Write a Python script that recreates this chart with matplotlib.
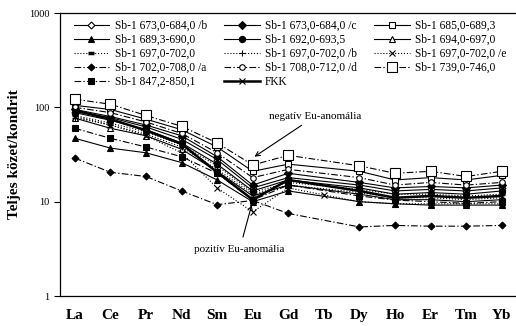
import numpy as np
import matplotlib
matplotlib.use("Agg")
import matplotlib.pyplot as plt

# =========================
# DATA (chondrite-normalized REE)
# =========================
elements = ["La", "Ce", "Pr", "Nd", "Sm", "Eu", "Gd", "Tb", "Dy", "Ho", "Er", "Tm", "Yb"]
nan = np.nan

labels = [
    "Sb-1 673,0-684,0 /b", "Sb-1 673,0-684,0 /c", "Sb-1 685,0-689,3",
    "Sb-1 689,3-690,0", "Sb-1 692,0-693,5", "Sb-1 694,0-697,0",
    "Sb-1 697,0-702,0", "Sb-1 697,0-702,0 /b", "Sb-1 697,0-702,0 /e",
    "Sb-1 702,0-708,0 /a", "Sb-1 708,0-712,0 /d", "Sb-1 739,0-746,0",
    "Sb-1 847,2-850,1", "FKK",
]

sb_673_b = [90, 78, 62, 46, 28, 14, 18, nan, 15, 13, 13.5, 13, 14]
sb_673_c = [95, 80, 65, 50, 30, 15, 20, nan, 16, 14, 14.5, 14, 15]
sb_685 = [105, 95, 75, 58, 38, 21, 25, nan, 21, 17, 18, 17, 19]
sb_689 = [47, 37, 33, 26, 17, 10, 13, nan, 10, 9.5, 9.2, 9.2, 9.2]
sb_692 = [88, 73, 58, 42, 25, 13, 17, nan, 14, 12, 12.5, 12, 13]
sb_694 = [77, 60, 50, 36, 21, 11.5, 15, nan, 12, 10.5, 10.5, 10, 10.5]
sb_697 = [82, 68, 55, 40, 24, 12.5, 16, nan, 13.5, 12, 12, 11.5, 12]
sb_697_b = [78, 65, 52, 38, 22, 12, 15, nan, 12.5, 11, 11, 10.5, 11]
sb_697_e = [80, 65, 50, 33, 14, 7.8, 14, 11.8, 10, 9.5, 9.5, 9.5, 9.5]
sb_702_a = [29, 20.5, 18.5, 13, 9.3, 10.3, 7.5, nan, 5.4, 5.6, 5.5, 5.5, 5.6]
sb_708_d = [100, 88, 70, 53, 33, 18, 22, nan, 18, 15, 16, 15, 16]
sb_739 = [122, 108, 82, 63, 42, 24.5, 31, nan, 24, 20, 21, 18.5, 21]
sb_847 = [60, 47, 38, 30, 20, 10.4, 15, nan, 11.5, 10.4, 10, 9.6, 10]
fkk = [93, 75, 57, 41, 20.5, 10.5, 17, nan, 13, 11, 11.5, 11, 11.5]

series = [sb_673_b, sb_673_c, sb_685, sb_689, sb_692, sb_694, sb_697,
          sb_697_b, sb_697_e, sb_702_a, sb_708_d, sb_739, sb_847, fkk]

# =========================
# STYLES
# =========================
DD = (0, (6, 2, 1.2, 2))  # dash-dot
styles = [
    dict(ls="-", marker="D", mfc="white", ms=3.5),
    dict(ls="-", marker="D", mfc="black", ms=4),
    dict(ls="-", marker="s", mfc="white", ms=4.5),
    dict(ls="-", marker="^", mfc="black", ms=5),
    dict(ls="-", marker="o", mfc="black", ms=4.5),
    dict(ls="-", marker="^", mfc="white", ms=4.5),
    dict(ls=":", marker="_", mfc="black", ms=5, mew=2.5),
    dict(ls=":", marker="+", mfc="black", ms=5),
    dict(ls=":", marker="x", mfc="black", ms=4),
    dict(ls=DD, marker="D", mfc="black", ms=3.5),
    dict(ls=DD, marker="o", mfc="white", ms=4),
    dict(ls=DD, marker="s", mfc="white", ms=7),
    dict(ls=DD, marker="s", mfc="black", ms=5),
    dict(ls="-", marker="x", mfc="black", ms=4.5, lw=1.8),
]

plt.rcParams["font.family"] = ["Liberation Serif", "DejaVu Serif"]

fig = plt.figure(figsize=(5.16, 3.26), dpi=100)
ax = fig.add_axes([0.116, 0.092, 0.884, 0.868])

x = np.arange(len(elements))
for vals, lab, st in zip(series, labels, styles):
    v = np.array(vals, dtype=float)
    ok = ~np.isnan(v)
    st = dict(st)
    lw = st.pop("lw", 0.8)
    mew = st.pop("mew", 0.8)
    ax.plot(x[ok], v[ok], color="black", mec="black", lw=lw, mew=mew,
            label=lab, **st)

ax.set_yscale("log")
ax.set_ylim(1, 1000)
ax.set_xlim(-0.42, 12.4)
ax.set_yticks([1, 10, 100, 1000])
ax.set_yticklabels(["1", "10", "100", "1000"], fontsize=7.5)
ax.yaxis.set_minor_locator(matplotlib.ticker.NullLocator())
ax.tick_params(axis="y", direction="out", length=4, width=0.8)
ax.set_xticks(x)
ax.set_xticklabels(elements, fontsize=11, fontweight="bold")
ax.tick_params(axis="x", length=0, pad=9)
ax.spines["right"].set_visible(False)
for s in ["left", "bottom", "top"]:
    ax.spines[s].set_linewidth(0.9)

ax.set_ylabel("Teljes közet/kondrit", fontsize=11, fontweight="bold", labelpad=6)

# legend filled row-wise like the original
order = [0, 3, 6, 9, 12, 1, 4, 7, 10, 13, 2, 5, 8, 11]
h, l = ax.get_legend_handles_labels()
ax.legend([h[i] for i in order], [l[i] for i in order], ncol=3, frameon=False,
          fontsize=8.3, loc="upper left", bbox_to_anchor=(0.015, 1.0),
          handlelength=3.1, handletextpad=0.45, columnspacing=1.5,
          labelspacing=0.17, borderaxespad=0.2)

ax.annotate("negatív Eu-anomália", xy=(5.05, 30), xytext=(5.45, 80),
            fontsize=8, ha="left", va="center",
            arrowprops=dict(arrowstyle="->", lw=0.8, color="black",
                            shrinkA=2, shrinkB=0))
ax.annotate("pozitív Eu-anomália", xy=(4.97, 9.2), xytext=(4.63, 3.1),
            fontsize=8, ha="center", va="center",
            arrowprops=dict(arrowstyle="->", lw=0.8, color="black",
                            shrinkA=4, shrinkB=0))

fig.savefig("out.png", dpi=100)
